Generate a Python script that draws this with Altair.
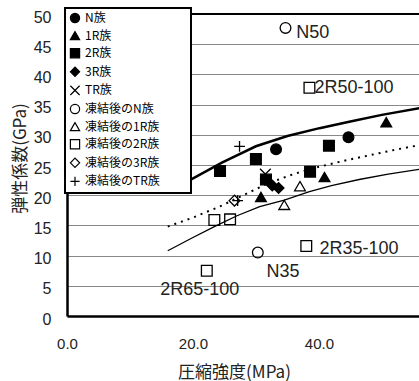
import altair as alt
import pandas as pd

# ---- data ----
groups = ["N族", "1R族", "2R族", "3R族", "TR族",
          "凍結後のN族", "凍結後の1R族", "凍結後の2R族", "凍結後の3R族", "凍結後のTR族"]

n_x = [44.7, 33.2]
n_y = [29.6, 27.6]
r1_x = [50.7, 40.9, 30.8]
r1_y = [32.1, 23.0, 19.7]
r2_x = [41.6, 30.0, 24.3, 38.6, 31.6]
r2_y = [28.2, 26.0, 24.0, 23.9, 22.6]
r3_x = [32.6, 33.6]
r3_y = [21.6, 21.2]
tr_x = [31.5]
tr_y = [23.5]
fn_x = [34.7, 30.3]
fn_y = [47.7, 10.5]
f1_x = [37.0, 34.5]
f1_y = [21.5, 18.4]
f2_x = [38.5, 38.0, 22.2, 23.4, 25.9]
f2_y = [37.8, 11.6, 7.5, 15.9, 16.0]
f3_x = [26.6]
f3_y = [19.1]
ftr_x = [27.4, 27.1]
ftr_y = [28.1, 19.1]

upper_x = [19.0, 24.6, 30.0, 35.0, 40.1, 45.0, 50.0, 56.0]
upper_y = [22.2, 25.4, 28.1, 29.8, 31.1, 32.2, 33.3, 34.4]
dotted_x = [16.0, 20.0, 24.0, 28.0, 32.0, 36.0, 40.0, 44.0, 48.0, 52.0, 56.0]
dotted_y = [14.8, 16.3, 18.0, 20.0, 22.0, 23.5, 24.7, 25.7, 26.6, 27.5, 28.3]
lower_x = [16.0, 20.0, 23.4, 27.0, 30.6, 34.5, 38.5, 42.0, 46.4, 51.0, 56.0]
lower_y = [10.8, 13.0, 14.8, 16.6, 18.1, 19.2, 20.6, 21.6, 22.6, 23.5, 24.3]

label_text = ["N50", "2R50-100", "2R35-100", "N35", "2R65-100"]
label_x = [36.4, 39.3, 40.1, 31.7, 14.8]
label_y = [46.9, 37.8, 11.1, 7.3, 4.3]

y_ticks = [0, 5, 10, 15, 20, 25, 30, 35, 40, 45, 50]
x_ticks = [0, 20, 40]

# ---- tables ----
series_x = [n_x, r1_x, r2_x, r3_x, tr_x, fn_x, f1_x, f2_x, f3_x, ftr_x]
series_y = [n_y, r1_y, r2_y, r3_y, tr_y, fn_y, f1_y, f2_y, f3_y, ftr_y]
rows = []
for g, xs, ys in zip(groups, series_x, series_y):
    for a, b in zip(xs, ys):
        rows.append({"x": a, "y": b, "group": g})
pts = pd.DataFrame(rows)
upper = pd.DataFrame({"x": upper_x, "y": upper_y})
dotted = pd.DataFrame({"x": dotted_x, "y": dotted_y})
lower = pd.DataFrame({"x": lower_x, "y": lower_y})
labels = pd.DataFrame({"x": label_x, "y": label_y, "t": label_text})

X_PATH = "M-1,-1L1,1M-1,1L1,-1"
PLUS_PATH = "M-1,0L1,0M0,-1L0,1"
shape_range = ["circle", "triangle-up", "square", "diamond", X_PATH,
               "circle", "triangle-up", "square", "diamond", PLUS_PATH]
fill_range = ["black", "black", "black", "black", "transparent",
              "transparent", "transparent", "transparent", "transparent", "transparent"]
stroke_range = ["black"] * 10

JP = "Noto Sans CJK JP"
NUM = "Liberation Sans"

xscale = alt.Scale(domain=[0, 55.9], nice=False, zero=False)
yscale = alt.Scale(domain=[0, 50], nice=False)
xaxis = alt.Axis(values=x_ticks, format=".1f", labelFont=NUM, labelFontSize=15,
                 labelColor="#222", labelPadding=20, labelFlush=False, ticks=False,
                 grid=False, domainColor="black", domainWidth=2.5,
                 titleFont=JP, titleFontSize=17, titleFontWeight="normal",
                 titleColor="#222", titleX=167, titleY=56, titleBaseline="middle",
                 titleAlign="center")
yaxis = alt.Axis(values=y_ticks, labelFont=NUM, labelFontSize=16, labelColor="#222",
                 labelPadding=16, labelOffset=3, ticks=False, grid=True,
                 gridColor="#888", gridWidth=1, domainColor="black", domainWidth=2.5,
                 titleFont=JP, titleFontSize=17, titleFontWeight="normal",
                 titleColor="#222", titleX=-47, titleY=144, titleBaseline="middle",
                 titleAlign="center", titleAngle=270)

XT = "圧縮強度(MPa)"
YT = "弾性係数(GPa)"

def X():
    return alt.X("x:Q", scale=xscale, axis=xaxis, title=XT)

def Y():
    return alt.Y("y:Q", scale=yscale, axis=yaxis, title=YT)

leg = alt.Legend(title=None, labelExpr="datum.label + '\u2800\u2800\u2800'")

up_line = alt.Chart(upper).mark_line(color="black", strokeWidth=2.5, clip=True).encode(x=X(), y=Y())
dot_line = alt.Chart(dotted).mark_line(color="black", strokeWidth=2, strokeDash=[2, 5], clip=True).encode(x=X(), y=Y())
low_line = alt.Chart(lower).mark_line(color="black", strokeWidth=1.3, clip=True).encode(x=X(), y=Y())

points = alt.Chart(pts).mark_point(filled=False, color="black", opacity=1, size=115,
                                   strokeWidth=1.3).encode(
    x=X(), y=Y(),
    shape=alt.Shape("group:N", scale=alt.Scale(domain=groups, range=shape_range), legend=leg),
    fill=alt.Fill("group:N", scale=alt.Scale(domain=groups, range=fill_range), legend=leg),
    stroke=alt.Stroke("group:N", scale=alt.Scale(domain=groups, range=stroke_range), legend=leg),
)

texts = alt.Chart(labels).mark_text(align="left", baseline="middle", font=NUM,
                                    fontSize=18, color="#222").encode(
    x=X(), y=Y(), text="t:N")

top = alt.Chart(pd.DataFrame({"v": [50]})).mark_rule(color="black", strokeWidth=2).encode(
    y=alt.Y("v:Q", scale=yscale, axis=yaxis, title=YT))

chart = alt.layer(up_line, dot_line, low_line, points, texts, top).properties(
    width=352, height=302,
    autosize=alt.AutoSizeParams(type="none"),
    padding={"left": 67, "top": 14, "right": 0, "bottom": 65},
    background="white",
).configure_view(strokeWidth=0).configure_legend(
    orient="none", legendX=-2, legendY=-6, fillColor="white", strokeColor="black",
    strokeWidth=2, padding=4, rowPadding=2.6, symbolSize=85, symbolStrokeWidth=1.2,
    labelFont=JP, labelFontSize=12, labelColor="black", labelOffset=4,
)

chart.save("out.html", embed_options={"renderer": "svg", "actions": False})
